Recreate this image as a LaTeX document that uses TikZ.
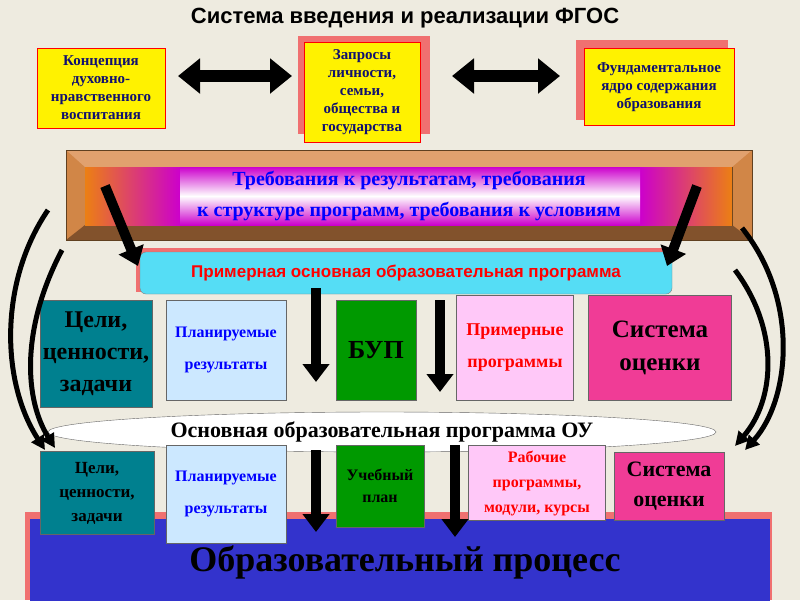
\documentclass[tikz,border=0pt]{standalone}
\usepackage{fontspec}
\setmainfont{Liberation Serif}
\newfontfamily\sansf{Liberation Sans}
\usetikzlibrary{arrows.meta,shapes.geometric,shapes.arrows}
\definecolor{bg}{HTML}{EEEBE0}
\definecolor{navy}{HTML}{101070}
\definecolor{shad}{HTML}{F07070}
\definecolor{teal1}{HTML}{00808F}
\definecolor{lblue}{HTML}{CCE8FF}
\definecolor{green1}{HTML}{009900}
\definecolor{lpink}{HTML}{FFC8F8}
\definecolor{mag}{HTML}{F03C96}
\definecolor{cyan1}{HTML}{55DDF5}
\definecolor{blue1}{HTML}{3333CC}
\definecolor{frame1}{HTML}{D9894A}
\tikzset{
 ybox/.style={draw=red,fill=yellow,font=\bfseries\fontsize{15}{18}\selectfont,text=navy,align=center,inner sep=1pt},
 bigarrow/.style={line width=10pt,-{Triangle[width=26pt,length=18pt]},black},
 dbl/.style={line width=12pt,{Triangle[width=34pt,length=22pt]}-{Triangle[width=34pt,length=22pt]},black},
 curv/.style={line width=5pt,-{Triangle[width=14pt,length=14pt]},black},
 cell/.style={draw=black!60,align=center,font=\bfseries,inner sep=1pt},
}
\begin{document}
\begin{tikzpicture}[x=1pt,y=-1pt]
\fill[bg] (0,0) rectangle (800,600);
\useasboundingbox (0,0) rectangle (800,600);
\node[font=\sansf\bfseries\fontsize{22}{24}\selectfont] (title) at (405,18) {Система введения и реализации ФГОС};
% top boxes
\node[ybox,minimum width=128pt,minimum height=80pt] (b1) at (101,88) {Концепция\\духовно-\\нравственного\\воспитания};
\fill[shad] (298,36) rectangle (430,134);
\node[ybox,minimum width=116pt,minimum height=100pt] (b2) at (362,92) {Запросы\\личности,\\семьи,\\общества и\\государства};
\fill[shad] (576,40) rectangle (728,120);
\node[ybox,minimum width=150pt,minimum height=77pt] (b3) at (659,87) {Фундаментальное\\ядро содержания\\образования};
\draw[dbl] (178,76) coordinate (d1) -- (292,76) coordinate (d2);
\draw[dbl] (452,76) coordinate (d3) -- (560,76) coordinate (d4);
% frame
\fill[frame1!70!brown] (66,150) rectangle (752,240);
\fill[frame1!80!white] (66,150) -- (752,150) -- (732,167) -- (85,167) -- cycle;
\fill[frame1!60!black] (66,240) -- (752,240) -- (732,225) -- (85,225) -- cycle;
\draw[brown!50!black] (66,150) rectangle (752,240) (85,167) rectangle (732,225);
\shade[left color=orange!70!brown,right color=magenta!80!black] (85,167) rectangle (180,225);
\shade[left color=magenta!80!black,right color=orange!70!brown] (640,167) rectangle (732,225);
\shade[top color=magenta!80!black,bottom color=magenta!80!black,middle color=white] (180,167) rectangle (640,225);
\node[font=\bfseries\fontsize{20}{31}\selectfont,text=blue,align=center] (req) at (409,196) {Требования к результатам, требования\\к структуре программ, требования к условиям};
% cyan box
\fill[shad] (136,248) rectangle (668,292);
\node[draw=black!50,fill=cyan1,rounded corners=6pt,minimum width=532pt,minimum height=42pt,font=\sansf\bfseries\fontsize{17}{19}\selectfont,text=red] (poop) at (406,273) {Примерная основная образовательная программа};
\draw[bigarrow] (105,186) -- (138,266);
\draw[bigarrow] (697,186) -- (667,266);
% row 1
\node[cell,fill=teal1,minimum width=112pt,minimum height=107pt,font=\bfseries\fontsize{24}{32}\selectfont] (c1) at (96,354) {Цели,\\ценности,\\задачи};
\node[cell,fill=lblue,minimum width=120pt,minimum height=100pt,text=blue,font=\bfseries\fontsize{16}{32}\selectfont] (c2) at (226,350) {Планируемые\\результаты};
\node[cell,fill=green1,minimum width=80pt,minimum height=100pt,font=\bfseries\fontsize{26}{28}\selectfont] (c3) at (376,350) {БУП};
\node[cell,fill=lpink,minimum width=117pt,minimum height=105pt,text=red,font=\bfseries\fontsize{18}{32}\selectfont] (c4) at (515,348) {Примерные\\программы};
\node[cell,fill=mag,minimum width=143pt,minimum height=105pt,font=\bfseries\fontsize{25}{33}\selectfont] (c5) at (660,348) {Система\\оценки};
\draw[bigarrow] (316,288) -- (316,382);
\draw[bigarrow] (440,300) -- (440,392);
% ellipse
\node[draw=black!60,fill=white,ellipse,minimum width=668pt,minimum height=40pt,inner sep=0pt,font=\bfseries\fontsize{22}{24}\selectfont] (oop) at (382,432) {Основная образовательная программа ОУ};
% bottom
\fill[shad] (25,512) rectangle (772,600);
\node[fill=blue1,minimum width=740pt,minimum height=82pt,anchor=north west,inner sep=0pt] (proc) at (30,519) {};
\node[font=\bfseries\fontsize{36}{40}\selectfont] (proctext) at (405,562) {Образовательный процесс};
% row 2
\node[cell,fill=teal1,minimum width=114pt,minimum height=83pt,font=\bfseries\fontsize{17}{24}\selectfont] (e1) at (97,493) {Цели,\\ценности,\\задачи};
\node[cell,fill=lblue,minimum width=120pt,minimum height=98pt,text=blue,font=\bfseries\fontsize{16}{32}\selectfont] (e2) at (226,494) {Планируемые\\результаты};
\node[cell,fill=green1,minimum width=88pt,minimum height=82pt,font=\bfseries\fontsize{16}{22}\selectfont] (e3) at (380,486) {Учебный\\план};
\node[cell,fill=lpink,minimum width=137pt,minimum height=75pt,text=red,font=\bfseries\fontsize{16}{25}\selectfont] (e4) at (537,483) {Рабочие\\программы,\\модули, курсы};
\node[cell,fill=mag,minimum width=110pt,minimum height=68pt,font=\bfseries\fontsize{22}{30}\selectfont] (e5) at (669,486) {Система\\оценки};
\draw[bigarrow] (316,450) -- (316,532);
\draw[bigarrow] (455,445) -- (455,537);
% curved arrows
\draw[curv] (48,210) .. controls (0,280) and (0,380) .. (45,450);
\draw[curv] (62,250) .. controls (20,330) and (25,400) .. (55,448);
\draw[curv] (742,228) .. controls (800,300) and (790,400) .. (745,450);
\draw[curv] (735,270) .. controls (780,330) and (775,400) .. (735,446);
\end{tikzpicture}
\end{document}
